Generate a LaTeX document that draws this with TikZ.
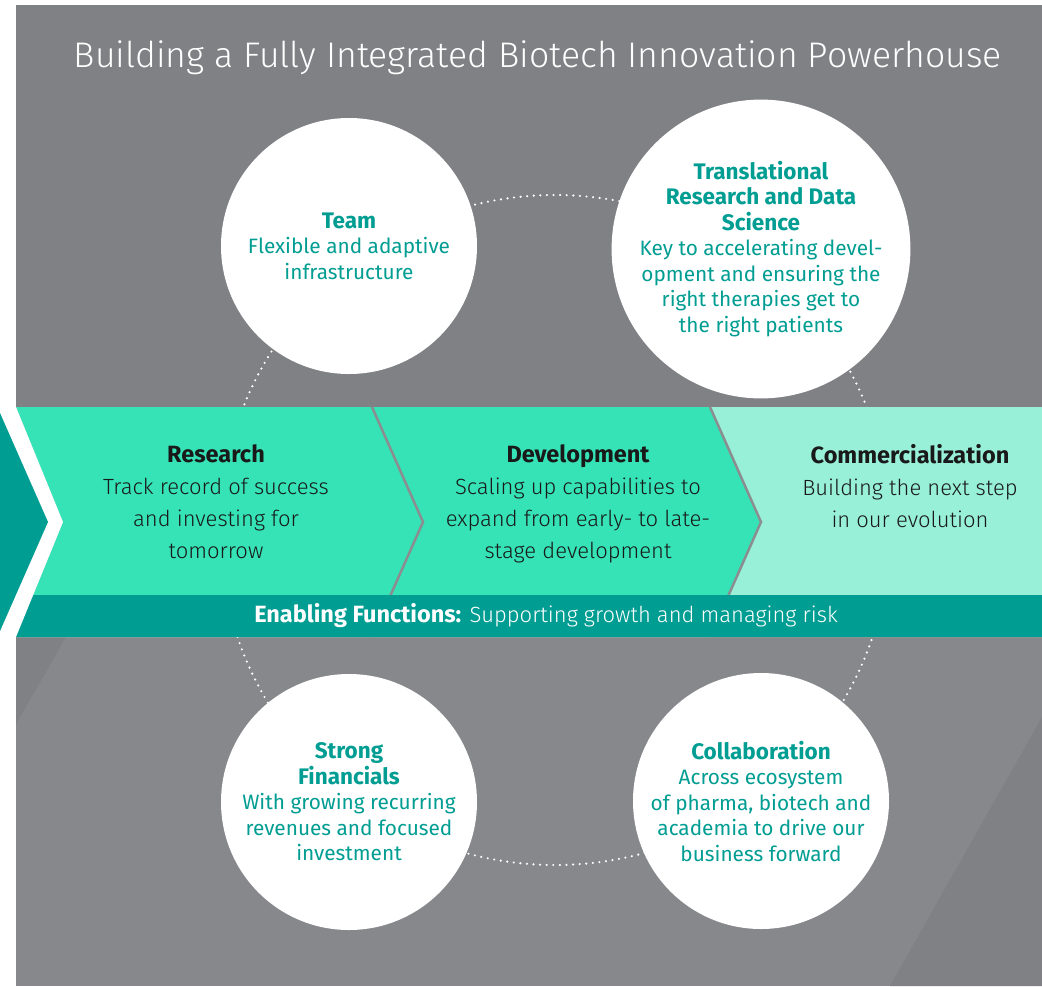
\documentclass[tikz,border=0pt]{standalone}
\usepackage{fontspec}
\setmainfont{Fira Sans}
\newfontfamily\lightfont{Fira Sans Light}
\usetikzlibrary{positioning}
\definecolor{bggray}{HTML}{808185}
\definecolor{bglow}{HTML}{87888C}
\definecolor{tealdark}{HTML}{009D92}
\definecolor{greenmid}{HTML}{35E3B6}
\definecolor{greenlight}{HTML}{98F0D9}
\definecolor{divgray}{HTML}{8C8D90}
\tikzset{
  pillar/.style={circle, fill=white, minimum size=256pt, inner sep=0pt, align=center,
    text=tealdark, font=\fontsize{20.8}{25.5}\selectfont},
  stage/.style={anchor=north, align=center, inner sep=0pt, text=black!90,
    font=\lightfont\fontsize{22}{32}\selectfont},
  ring/.style={white, line width=2.4pt, line cap=round, dash pattern=on 0pt off 6.6pt}
}
\newcommand{\hd}[1]{{\rmfamily\bfseries\fontsize{23.5}{32}\selectfont #1}}
\newcommand{\ph}[1]{{\bfseries\fontsize{22.5}{25.5}\selectfont #1}}

\begin{document}
\begin{tikzpicture}[x=1pt, y=-1pt]
\useasboundingbox (0,0) rectangle (1042,986);
%% background
  \fill[bggray] (16,5) rectangle (1042,986);
  \fill[bglow] (16,637) rectangle (1042,986);
  \fill[bggray] (1042,717) -- (1042,986) -- (890,986) -- cycle;
  \fill[bggray] (16,637) -- (66,637) -- (16,724) -- cycle;
%% title
  \node[text=white, font=\lightfont\fontsize{35.6}{40}\selectfont] (title) at (538,58)
    {Building a Fully Integrated Biotech Innovation Powerhouse};
%% dotted ring behind the pillars
  \draw[ring] (555,530) circle[radius=335];
%% band of stages
  \fill[greenlight] (16,407) -- (1042,407) -- (1042,637) -- (16,637) -- (63,522) -- cycle;
  \fill[greenmid] (16,407) -- (710,407) -- (761,522) -- (710,637) -- (16,637) -- (63,522) -- cycle;
  \draw[divgray, line width=2.5pt] (372,407) -- (423,522) -- (372,637);
  \draw[divgray, line width=2.5pt] (710,407) -- (761,522) -- (710,637);
  \fill[tealdark] (16,595) rectangle (1042,637);
  \fill[white] (0,407) -- (16,407) -- (63,522) -- (16,637) -- (0,637) -- cycle;
  \fill[tealdark] (0,413) -- (48,522) -- (0,631) -- cycle;
  \node[stage] (research) at (216,444.5)
    {\hd{Research}\\Track record of success\\and investing for\\tomorrow};
  \node[stage] (development) at (578,444.5)
    {\hd{Development}\\Scaling up capabilities to\\expand from early- to late-\\stage development};
  \node[stage] (commercial) at (910,444.5)
    {\hd{Commercialization}\\Building the next step\\in our evolution};
  \node[text=white, font=\lightfont\fontsize{22}{25}\selectfont] (enabling) at (546,616)
    {\hd{Enabling Functions:} Supporting growth and managing risk};
%% pillars
  \node[pillar] (team) at (349,246)
    {\ph{Team}\\Flexible and adaptive\\infrastructure};
  \node[pillar] (translational) at (761,249)
    {\ph{Translational}\\\ph{Research and Data}\\\ph{Science}\\Key to accelerating devel-\\opment and ensuring the\\right therapies get to\\the right patients};
  \node[pillar] (financials) at (349,802)
    {\ph{Strong}\\\ph{Financials}\\With growing recurring\\revenues and focused\\investment};
  \node[pillar] (collaboration) at (761,801)
    {\ph{Collaboration}\\Across ecosystem\\of pharma, biotech and\\academia to drive our\\business forward};
\end{tikzpicture}
\end{document}
